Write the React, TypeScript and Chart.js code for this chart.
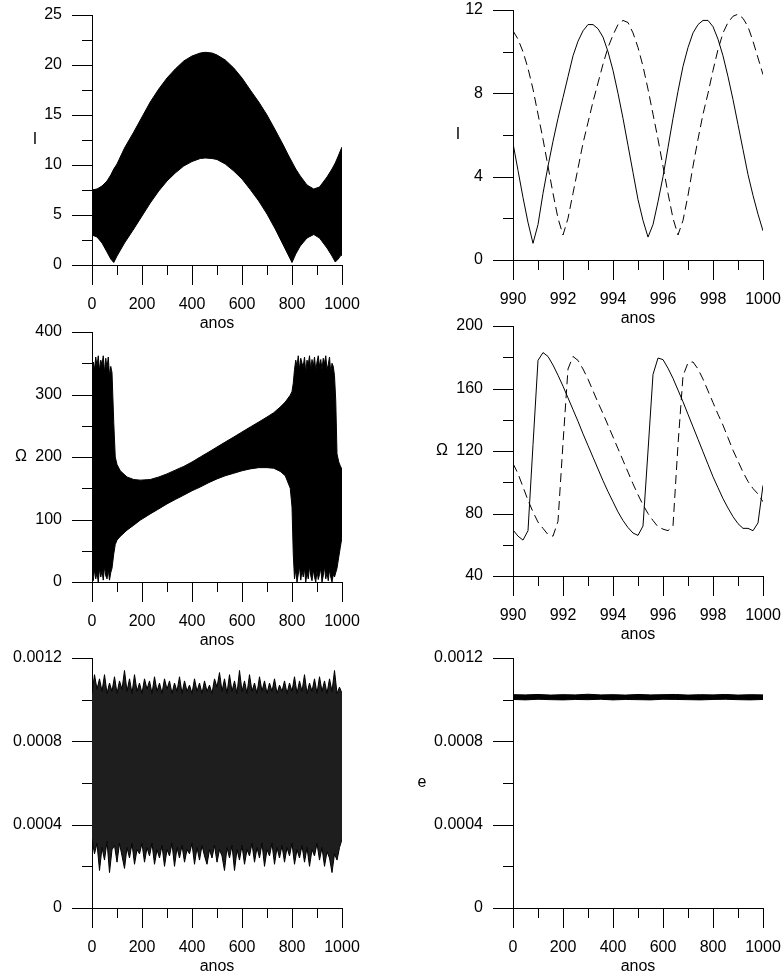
import React, { useEffect, useRef } from 'react';
import { Chart, registerables } from 'chart.js';

Chart.register(...registerables);

const FONT = "'Liberation Sans', Arial, Helvetica, sans-serif";

// ---------- Panel 1: I over 0–1000 years (envelope of the fast oscillation) ----------
const I_LONG_YEARS = [0, 20, 40, 60, 75, 87, 100, 130, 167, 200, 233, 267, 300, 333, 367, 400, 433, 453, 480, 500, 533, 567, 600, 633, 667, 700, 733, 767, 785, 800, 815, 833, 860, 887, 910, 940, 960, 973, 985, 993, 1000];
const I_LONG_UPPER = [7.5, 7.6, 7.9, 8.4, 9.0, 9.6, 10.1, 11.7, 13.3, 14.8, 16.3, 17.6, 18.7, 19.6, 20.4, 20.9, 21.2, 21.27, 21.2, 21.0, 20.5, 19.7, 18.7, 17.5, 16.3, 15.0, 13.5, 11.9, 11.0, 10.3, 9.6, 8.9, 8.0, 7.6, 7.8, 8.8, 9.6, 10.2, 10.9, 11.4, 11.8];
const I_LONG_LOWER = [3.0, 2.8, 2.2, 1.3, 0.6, 0.25, 0.9, 2.2, 3.6, 4.9, 6.2, 7.4, 8.4, 9.2, 9.9, 10.35, 10.65, 10.7, 10.65, 10.55, 10.1, 9.4, 8.6, 7.55, 6.4, 5.1, 3.6, 1.9, 1.0, 0.25, 1.1, 1.9, 2.7, 3.05, 2.7, 1.7, 0.9, 0.3, 0.6, 0.9, 1.0];

// ---------- Panels 2 & 4: last ten years ----------
const SHORT_YEARS = [
  990, 990.2, 990.4, 990.6, 990.8, 991, 991.2, 991.4, 991.6, 991.8,
  992, 992.2, 992.4, 992.6, 992.8, 993, 993.2, 993.4, 993.6, 993.8,
  994, 994.2, 994.4, 994.6, 994.8, 995, 995.2, 995.4, 995.6, 995.8,
  996, 996.2, 996.4, 996.6, 996.8, 997, 997.2, 997.4, 997.6, 997.8,
  998, 998.2, 998.4, 998.6, 998.8, 999, 999.2, 999.4, 999.6, 999.8,
  1000,
];
const I_SHORT_SOLID = [
  5.6, 4.3, 3.0, 1.8, 0.8, 1.7, 3.2, 4.5, 5.7, 6.8,
  7.8, 8.8, 9.8, 10.5, 11.0, 11.3, 11.3, 11.1, 10.7, 10.0,
  9.1, 8.0, 6.8, 5.5, 4.2, 2.9, 1.9, 1.1, 1.7, 2.8,
  4.0, 5.4, 6.8, 8.1, 9.3, 10.2, 10.9, 11.3, 11.5, 11.5,
  11.2, 10.6, 9.8, 8.8, 7.7, 6.5, 5.3, 4.1, 3.1, 2.2,
  1.4,
];
const I_SHORT_DASHED = [
  11.0, 10.6, 10.0, 9.2, 8.2, 7.0, 5.8, 4.5, 3.2, 2.0,
  1.2, 2.0, 3.2, 4.4, 5.6, 6.6, 7.6, 8.5, 9.4, 10.2,
  10.8, 11.3, 11.5, 11.4, 10.9, 10.2, 9.3, 8.2, 7.0, 5.8,
  4.5, 3.2, 2.0, 1.2, 1.9, 3.1, 4.5, 5.8, 7.0, 8.0,
  9.1, 10.1, 10.9, 11.4, 11.7, 11.8, 11.6, 11.2, 10.5, 9.7,
  8.9,
];
const OM_SHORT_SOLID = [
  69.5, 65.5, 63, 69, 124, 178, 183, 180.5, 175, 168.5,
  161.5, 154, 146.5, 139, 131, 123.5, 116, 108.5, 101, 94,
  87.5, 81, 75.5, 71, 67.5, 66, 72, 120, 169, 179.5,
  178.5, 173, 166.5, 159, 151.5, 143.5, 135.5, 127.5, 119.5, 111.5,
  103.5, 96.5, 89.5, 83.5, 78, 73.5, 70.5, 70.5, 69, 74,
  98,
];
const OM_SHORT_DASHED = [
  112, 105.5, 97, 88.5, 81, 74.5, 70.5, 66.5, 65.5, 75,
  125, 172.5, 180.5, 178, 172.5, 166, 158.5, 151, 144, 136.5,
  129, 121.5, 114, 106.5, 99, 92, 85.5, 80, 75.5, 71.5,
  70, 69, 72, 124, 168, 176.5, 177, 172.5, 166, 158.5,
  151, 143.5, 136.5, 128.5, 120.5, 113.5, 106.5, 100.5, 96, 92.5,
  87.5,
];

// ---------- Panel 3: Omega over 0–1000 years (envelope) ----------
const OM_LONG_YEARS = [
  0, 5, 10, 15, 20, 25, 30, 35, 40, 45, 50, 55, 60, 65, 70, 75, 80,
  87, 93, 100, 113, 140, 167, 193, 233, 267, 300, 333, 367, 400, 433, 467, 500, 533, 567, 600, 633, 667, 700, 727, 753, 773, 793, 800, 805,
  810, 815, 820, 825, 830, 835, 840, 845, 850, 855, 860, 865, 870, 875, 880, 885,
  890, 895, 900, 905, 910, 915, 920, 925, 930, 935, 940, 945, 950, 955, 960, 965,
  970, 975, 980, 987, 993, 1000,
];
const OM_LONG_UPPER = [
  330, 352, 340, 360, 345, 362, 338, 355, 348, 362, 335, 358, 342, 360, 330, 345, 335,
  255, 200, 188, 178, 168, 164, 163, 164, 168, 173, 179, 185, 192, 200, 208, 216, 224, 232, 240, 248, 256, 264, 271, 280, 288, 299, 305, 318,
  340, 355, 345, 362, 340, 358, 350, 345, 360, 335, 355, 348, 362, 340, 356, 345,
  360, 338, 352, 362, 345, 356, 340, 358, 350, 362, 340, 348, 360, 335, 350, 345,
  330, 290, 205, 192, 186, 180,
];
const OM_LONG_LOWER = [
  10, 2, 20, 5, 15, 0, 22, 8, 18, 3, 25, 10, 5, 20, 3, 15, 22,
  45, 60, 67, 73, 83, 91, 99, 109, 117, 125, 132, 139, 146, 152, 159, 165, 170, 174, 178, 181, 183, 183, 182, 177, 170, 150, 120, 45,
  5, 20, 0, 12, 25, 3, 18, 8, 22, 0, 15, 5, 25, 10, 2, 20,
  8, 0, 18, 4, 12, 22, 0, 10, 25, 5, 15, 2, 20, 8, 0, 12,
  8, 15, 22, 40, 55, 72,
];

// ---------- Panel 5: e over 0–1000 years (envelope) ----------
const E_LONG_YEARS = [
  0, 10, 20, 30, 40, 50, 60, 70, 80, 90,
  100, 110, 120, 130, 140, 150, 160, 170, 180, 190,
  200, 210, 220, 230, 240, 250, 260, 270, 280, 290,
  300, 310, 320, 330, 340, 350, 360, 370, 380, 390,
  400, 410, 420, 430, 440, 450, 460, 470, 480, 490,
  500, 510, 520, 530, 540, 550, 560, 570, 580, 590,
  600, 610, 620, 630, 640, 650, 660, 670, 680, 690,
  700, 710, 720, 730, 740, 750, 760, 770, 780, 790,
  800, 810, 820, 830, 840, 850, 860, 870, 880, 890,
  900, 910, 920, 930, 940, 950, 960, 970, 980, 990,
  1000,
];
const E_LONG_UPPER = [
  0.00103, 0.00112, 0.00105, 0.00110, 0.00104, 0.00112, 0.00103, 0.00108, 0.00104, 0.00111,
  0.00103, 0.00109, 0.00105, 0.00114, 0.00104, 0.00110, 0.00103, 0.00112, 0.00104, 0.00108,
  0.00103, 0.00110, 0.00105, 0.00109, 0.00103, 0.00111, 0.00104, 0.00108, 0.00103, 0.00110,
  0.00105, 0.00109, 0.00103, 0.00108, 0.00104, 0.00111, 0.00103, 0.00109, 0.00104, 0.00107,
  0.00103, 0.00110, 0.00104, 0.00108, 0.00103, 0.00109, 0.00104, 0.00107, 0.00103, 0.00110,
  0.00106, 0.00113, 0.00104, 0.00110, 0.00103, 0.00112, 0.00104, 0.00109, 0.00103, 0.00114,
  0.00104, 0.00109, 0.00103, 0.00112, 0.00104, 0.00108, 0.00103, 0.00111, 0.00104, 0.00109,
  0.00103, 0.00108, 0.00104, 0.00110, 0.00103, 0.00107, 0.00104, 0.00109, 0.00103, 0.00108,
  0.00104, 0.00111, 0.00103, 0.00109, 0.00104, 0.00112, 0.00103, 0.00108, 0.00104, 0.00110,
  0.00103, 0.00111, 0.00104, 0.00109, 0.00103, 0.00110, 0.00104, 0.00114, 0.00103, 0.00106,
  0.00103,
];
const E_LONG_LOWER = [
  0.00033, 0.00026, 0.00031, 0.00018, 0.00029, 0.00023, 0.00032, 0.00017, 0.00028, 0.00030,
  0.00022, 0.00031, 0.00025, 0.00019, 0.00029, 0.00024, 0.00031, 0.00021, 0.00028, 0.00026,
  0.00031, 0.00022, 0.00029, 0.00025, 0.00031, 0.00021, 0.00028, 0.00024, 0.00030, 0.00020,
  0.00028, 0.00025, 0.00031, 0.00020, 0.00029, 0.00024, 0.00030, 0.00022, 0.00028, 0.00026,
  0.00031, 0.00021, 0.00029, 0.00023, 0.00030, 0.00025, 0.00021, 0.00028, 0.00024, 0.00030,
  0.00022, 0.00028, 0.00025, 0.00018, 0.00029, 0.00024, 0.00030, 0.00018, 0.00028, 0.00023,
  0.00030, 0.00021, 0.00028, 0.00025, 0.00031, 0.00022, 0.00029, 0.00024, 0.00031, 0.00020,
  0.00028, 0.00025, 0.00031, 0.00021, 0.00029, 0.00024, 0.00030, 0.00022, 0.00029, 0.00025,
  0.00031, 0.00021, 0.00028, 0.00024, 0.00030, 0.00022, 0.00029, 0.00020, 0.00028, 0.00025,
  0.00031, 0.00023, 0.00029, 0.00020, 0.00027, 0.00024, 0.00017, 0.00026, 0.00023, 0.00029,
  0.00033,
];

// ---------- Panel 6: e (thin band near 0.001) ----------
const E_FLAT_YEARS = [0, 50, 100, 150, 200, 250, 300, 350, 400, 450, 500, 550, 600, 650, 700, 750, 800, 850, 900, 950, 1000];
const E_FLAT_UPPER = [0.001024, 0.001023, 0.001025, 0.001022, 0.001024, 0.001023, 0.001026, 0.001023, 0.001024, 0.001022, 0.001025, 0.001023, 0.001024, 0.001025, 0.001022, 0.001024, 0.001023, 0.001025, 0.001022, 0.001024, 0.001023];
const E_FLAT_LOWER = [0.001001, 0.000999, 0.001002, 0.001000, 0.000999, 0.001001, 0.001000, 0.001002, 0.000999, 0.001001, 0.001000, 0.000999, 0.001002, 0.001001, 0.001000, 0.000999, 0.001001, 0.001002, 0.001000, 0.000999, 0.001001];

// ---------- Axis ticks ----------
const X_LONG_TICKS = [0, 200, 400, 600, 800, 1000];
const X_LONG_LABELS = ['0', '200', '400', '600', '800', '1000'];
const X_LONG_MINOR = [100, 300, 500, 700, 900];
const X_SHORT_TICKS = [990, 992, 994, 996, 998, 1000];
const X_SHORT_LABELS = ['990', '992', '994', '996', '998', '1000'];
const X_SHORT_MINOR = [991, 993, 995, 997, 999];

const Y_I_LONG_TICKS = [0, 5, 10, 15, 20, 25];
const Y_I_LONG_LABELS = ['0', '5', '10', '15', '20', '25'];
const Y_I_LONG_MINOR = [2.5, 7.5, 12.5, 17.5, 22.5];
const Y_I_SHORT_TICKS = [0, 4, 8, 12];
const Y_I_SHORT_LABELS = ['0', '4', '8', '12'];
const Y_I_SHORT_MINOR = [2, 6, 10];
const Y_OM_LONG_TICKS = [0, 100, 200, 300, 400];
const Y_OM_LONG_LABELS = ['0', '100', '200', '300', '400'];
const Y_OM_LONG_MINOR = [50, 150, 250, 350];
const Y_OM_SHORT_TICKS = [40, 80, 120, 160, 200];
const Y_OM_SHORT_LABELS = ['40', '80', '120', '160', '200'];
const Y_OM_SHORT_MINOR = [60, 100, 140, 180];
const Y_E_TICKS = [0, 0.0004, 0.0008, 0.0012];
const Y_E_LABELS = ['0', '0.0004', '0.0008', '0.0012'];
const Y_E_MINOR = [0.0002, 0.0006, 0.001];

// ---------- Layout constants ----------
const AX_W = 100; // width reserved left of plot
const AX_H = 70; // height reserved below plot
const PAD_T = 20;
const PAD_R = 22;
const PLOT = 250;
const CW = AX_W + PLOT + PAD_R;
const CH = PAD_T + PLOT + AX_H;

const pts = (xs: number[], ys: number[]) => xs.map((x, i) => ({ x, y: ys[i] }));

const envelope = (xs: number[], up: number[], lo: number[], fillColor = '#000') => [
  { data: pts(xs, up), borderColor: '#000', backgroundColor: fillColor, borderWidth: 1, fill: false, pointRadius: 0 },
  { data: pts(xs, lo), borderColor: '#000', backgroundColor: fillColor, borderWidth: 1, fill: '-1', pointRadius: 0 },
];

type Spec = {
  left: number; top: number;
  xMin: number; xMax: number; xTicks: number[]; xLabels: string[]; xMinor: number[];
  yMin: number; yMax: number; yTicks: number[]; yLabels: string[]; yMinor: number[];
  yTitle: string; yTitleDx: number;
  datasets: any[];
};

const PANELS: Spec[] = [
  {
    left: 92, top: 15,
    xMin: 0, xMax: 1000, xTicks: X_LONG_TICKS, xLabels: X_LONG_LABELS, xMinor: X_LONG_MINOR,
    yMin: 0, yMax: 25, yTicks: Y_I_LONG_TICKS, yLabels: Y_I_LONG_LABELS, yMinor: Y_I_LONG_MINOR,
    yTitle: 'I', yTitleDx: -57,
    datasets: envelope(I_LONG_YEARS, I_LONG_UPPER, I_LONG_LOWER),
  },
  {
    left: 513, top: 10,
    xMin: 990, xMax: 1000, xTicks: X_SHORT_TICKS, xLabels: X_SHORT_LABELS, xMinor: X_SHORT_MINOR,
    yMin: 0, yMax: 12, yTicks: Y_I_SHORT_TICKS, yLabels: Y_I_SHORT_LABELS, yMinor: Y_I_SHORT_MINOR,
    yTitle: 'I', yTitleDx: -55,
    datasets: [
      { data: pts(SHORT_YEARS, I_SHORT_SOLID), borderColor: '#000', borderWidth: 1, fill: false, pointRadius: 0 },
      { data: pts(SHORT_YEARS, I_SHORT_DASHED), borderColor: '#000', borderWidth: 1, borderDash: [9, 5], fill: false, pointRadius: 0 },
    ],
  },
  {
    left: 92, top: 332,
    xMin: 0, xMax: 1000, xTicks: X_LONG_TICKS, xLabels: X_LONG_LABELS, xMinor: X_LONG_MINOR,
    yMin: 0, yMax: 400, yTicks: Y_OM_LONG_TICKS, yLabels: Y_OM_LONG_LABELS, yMinor: Y_OM_LONG_MINOR,
    yTitle: 'Ω', yTitleDx: -71,
    datasets: envelope(OM_LONG_YEARS, OM_LONG_UPPER, OM_LONG_LOWER),
  },
  {
    left: 513, top: 326,
    xMin: 990, xMax: 1000, xTicks: X_SHORT_TICKS, xLabels: X_SHORT_LABELS, xMinor: X_SHORT_MINOR,
    yMin: 40, yMax: 200, yTicks: Y_OM_SHORT_TICKS, yLabels: Y_OM_SHORT_LABELS, yMinor: Y_OM_SHORT_MINOR,
    yTitle: 'Ω', yTitleDx: -71,
    datasets: [
      { data: pts(SHORT_YEARS, OM_SHORT_SOLID), borderColor: '#000', borderWidth: 1, fill: false, pointRadius: 0 },
      { data: pts(SHORT_YEARS, OM_SHORT_DASHED), borderColor: '#000', borderWidth: 1, borderDash: [9, 5], fill: false, pointRadius: 0 },
    ],
  },
  {
    left: 92, top: 658,
    xMin: 0, xMax: 1000, xTicks: X_LONG_TICKS, xLabels: X_LONG_LABELS, xMinor: X_LONG_MINOR,
    yMin: 0, yMax: 0.0012, yTicks: Y_E_TICKS, yLabels: Y_E_LABELS, yMinor: Y_E_MINOR,
    yTitle: '', yTitleDx: 0,
    datasets: envelope(E_LONG_YEARS, E_LONG_UPPER, E_LONG_LOWER, '#1e1e1e'),
  },
  {
    left: 513, top: 658,
    xMin: 0, xMax: 1000, xTicks: X_LONG_TICKS, xLabels: X_LONG_LABELS, xMinor: X_LONG_MINOR,
    yMin: 0, yMax: 0.0012, yTicks: Y_E_TICKS, yLabels: Y_E_LABELS, yMinor: Y_E_MINOR,
    yTitle: 'e', yTitleDx: -91,
    datasets: envelope(E_FLAT_YEARS, E_FLAT_UPPER, E_FLAT_LOWER),
  },
];

function makeDecor(spec: Spec) {
  return {
    id: 'axisDecor',
    afterDraw(chart: any) {
      const { ctx, chartArea: a } = chart;
      const xs = chart.scales.x;
      const ys = chart.scales.y;
      ctx.save();
      ctx.strokeStyle = '#000';
      ctx.lineWidth = 1;
      const seg = (x1: number, y1: number, x2: number, y2: number) => {
        ctx.beginPath();
        ctx.moveTo(x1, y1);
        ctx.lineTo(x2, y2);
        ctx.stroke();
      };
      const bottom = Math.round(a.bottom);
      const left = Math.round(a.left);
      const xTick = (v: number, len: number) => {
        const p = Math.round(xs.getPixelForValue(v)) + 0.5;
        seg(p, bottom, p, bottom + len);
      };
      const yTick = (v: number, len: number) => {
        const p = Math.round(ys.getPixelForValue(v)) + 0.5;
        seg(left - len, p, left, p);
      };
      spec.xTicks.forEach((v) => xTick(v, 20));
      spec.xMinor.forEach((v) => xTick(v, 10));
      spec.yTicks.forEach((v) => yTick(v, 20));
      spec.yMinor.forEach((v) => yTick(v, 10));
      if (spec.yTitle) {
        ctx.fillStyle = '#000';
        ctx.font = `16px ${FONT}`;
        ctx.textAlign = 'center';
        ctx.textBaseline = 'middle';
        ctx.fillText(spec.yTitle, a.left + spec.yTitleDx, (a.top + a.bottom) / 2);
      }
      ctx.restore();
    },
  };
}

function Panel({ spec }: { spec: Spec }) {
  const ref = useRef<HTMLCanvasElement>(null);
  useEffect(() => {
    const canvas = ref.current;
    if (!canvas) return;
    const tickFont = { family: FONT, size: 16 };
    // invisible tick marks of length 30 push the labels out; the visible ticks are drawn by axisDecor
    const hiddenGrid = { display: true, drawOnChartArea: false, drawTicks: true, tickLength: 30, tickColor: 'rgba(0,0,0,0)', color: 'rgba(0,0,0,0)' };
    const chart = new Chart(canvas, {
      type: 'line',
      data: { datasets: spec.datasets },
      options: {
        animation: false,
        responsive: false,
        devicePixelRatio: 1,
        layout: { padding: { left: 0, top: PAD_T, right: PAD_R, bottom: 0 } },
        plugins: { legend: { display: false }, tooltip: { enabled: false } },
        elements: { point: { radius: 0 }, line: { tension: 0 } },
        scales: {
          x: {
            type: 'linear',
            min: spec.xMin,
            max: spec.xMax,
            afterFit: (s: any) => { s.height = AX_H; },
            afterBuildTicks: (s: any) => { s.ticks = spec.xTicks.map((v) => ({ value: v })); },
            ticks: {
              autoSkip: false,
              maxRotation: 0,
              minRotation: 0,
              padding: 0,
              color: '#000',
              font: tickFont,
              callback: (_v: any, i: number) => spec.xLabels[i],
            },
            grid: hiddenGrid,
            border: { display: true, color: '#000', width: 1 },
            title: { display: true, text: 'anos', color: '#000', font: tickFont, padding: { top: 0, bottom: 2 } },
          },
          y: {
            type: 'linear',
            min: spec.yMin,
            max: spec.yMax,
            afterFit: (s: any) => { s.width = AX_W; },
            afterBuildTicks: (s: any) => { s.ticks = spec.yTicks.map((v) => ({ value: v })); },
            ticks: {
              autoSkip: false,
              padding: 0,
              color: '#000',
              font: tickFont,
              callback: (_v: any, i: number) => spec.yLabels[i],
            },
            grid: hiddenGrid,
            border: { display: true, color: '#000', width: 1 },
          },
        },
      } as any,
      plugins: [makeDecor(spec)],
    });
    return () => chart.destroy();
  }, [spec]);
  return (
    <canvas
      ref={ref}
      width={CW}
      height={CH}
      style={{ position: 'absolute', left: spec.left - AX_W, top: spec.top - PAD_T, width: CW, height: CH }}
    />
  );
}

export default function App() {
  return (
    <div style={{ position: 'absolute', left: 0, top: 0, width: 782, height: 977, overflow: 'hidden', background: '#fff' }}>
      {PANELS.map((p, i) => (
        <Panel key={i} spec={p} />
      ))}
    </div>
  );
}
